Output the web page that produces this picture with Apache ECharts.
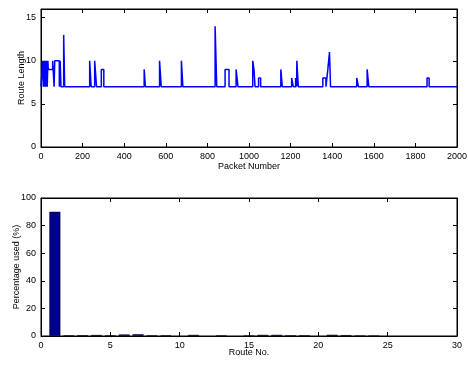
<!DOCTYPE html>
<html>
<head>
<meta charset="utf-8">
<script src="https://cdn.jsdelivr.net/npm/echarts@6/dist/echarts.min.js"></script>
<style>
  html, body { margin: 0; padding: 0; background: #fff; }
  #chart { width: 468px; height: 366px; }
</style>
</head>
<body>
<div id="chart"></div>
<script>
// top plot: packet number where the route length changes, and the new length
var packetNo = [0, 8, 11, 14, 17, 20, 24, 27, 30, 33, 35, 56, 63, 66, 88, 92, 96, 109, 114,
  234, 241, 258, 267, 290, 302, 496, 502, 570, 578, 675, 682, 837, 845, 885, 904, 938, 947,
  1018, 1024, 1029, 1046, 1056, 1153, 1160, 1205, 1213, 1224, 1229, 1230, 1237,
  1355, 1370, 1379, 1387, 1392, 1518, 1526, 1568, 1576, 1856, 1866, 2000]
var routeLength = [7, 10, 7, 10, 7, 10, 7, 10, 7, 10, 9, 10, 7, 10, 7, 10, 7, 13, 7,
  10, 7, 10, 7, 9, 7, 9, 7, 10, 7, 10, 7, 14, 7, 9, 7, 9, 7,
  10, 9, 7, 8, 7, 9, 7, 8, 7, 8, 7, 10, 7,
  8, 7, 9, 11, 7, 8, 7, 9, 7, 8, 7, 7]

// bottom plot: share of packets per route
var routeNo = [1, 2, 3, 4, 5, 6, 7, 8, 9, 11, 13, 15, 16, 17, 18, 19, 21, 22, 23, 24]
var pctUsed = [90, 0.4, 0.5, 0.7, 0.4, 1.1, 1.3, 0.4, 0.4, 0.8, 0.3, 0.2, 0.8, 0.8, 0.4, 0.4, 0.9, 0.6, 0.1, 0.1]

var lineData = packetNo.map(function (p, i) { return [p, routeLength[i]] })
var barData = routeNo.map(function (r, i) { return [r, pctUsed[i]] })

var font = 'Liberation Sans, Arial, sans-serif'
var lbl = { color: '#000', fontSize: 9, fontFamily: font }

function frameAxis(kind, grid, pos, min, max, interval, show) {
  return {
    type: 'value', gridIndex: grid, position: pos, min: min, max: max, interval: interval,
    axisLine: { show: true, onZero: false, lineStyle: { color: '#000', width: 1 } },
    axisTick: { show: true, inside: true, length: 4, lineStyle: { color: '#000' } },
    axisLabel: show ? Object.assign({
      margin: 5,
      showMaxLabel: kind === 'x' || max % interval === 0,
      formatter: function (v) { return String(v) }
    }, lbl) : { show: false },
    splitLine: { show: false }
  }
}

function named(ax, name, gap) {
  ax.name = name
  ax.nameLocation = 'middle'
  ax.nameGap = gap
  ax.nameMoveOverlap = false
  ax.nameTextStyle = lbl
  return ax
}

var chart = echarts.init(document.getElementById('chart'))

chart.setOption({
  animation: false,
  grid: [
    { left: 41, right: 11, top: 9, height: 138, show: true, borderColor: '#000', borderWidth: 1, outerBoundsMode: 'none', containLabel: false },
    { left: 41, right: 11, top: 198, height: 138, show: true, borderColor: '#000', borderWidth: 1, outerBoundsMode: 'none', containLabel: false }
  ],
  xAxis: [
    named(frameAxis('x', 0, 'bottom', 0, 2000, 200, true), 'Packet Number', 15),
    frameAxis('x', 0, 'top', 0, 2000, 200, false),
    named(frameAxis('x', 1, 'bottom', 0, 30, 5, true), 'Route No.', 12),
    frameAxis('x', 1, 'top', 0, 30, 5, false)
  ],
  yAxis: [
    named(frameAxis('y', 0, 'left', 0, 16, 5, true), 'Route Length', 15),
    frameAxis('y', 0, 'right', 0, 16, 5, false),
    named(frameAxis('y', 1, 'left', 0, 100, 20, true), 'Percentage used (%)', 20),
    frameAxis('y', 1, 'right', 0, 100, 20, false)
  ],
  series: [
    {
      type: 'line', xAxisIndex: 0, yAxisIndex: 0, step: 'end', data: lineData,
      showSymbol: false, lineStyle: { color: '#0000ff', width: 1.5 }
    },
    {
      type: 'bar', xAxisIndex: 2, yAxisIndex: 2, data: barData, barWidth: 11,
      itemStyle: { color: '#000090', borderColor: '#000', borderWidth: 0.5 }
    }
  ]
})
</script>
</body>
</html>
